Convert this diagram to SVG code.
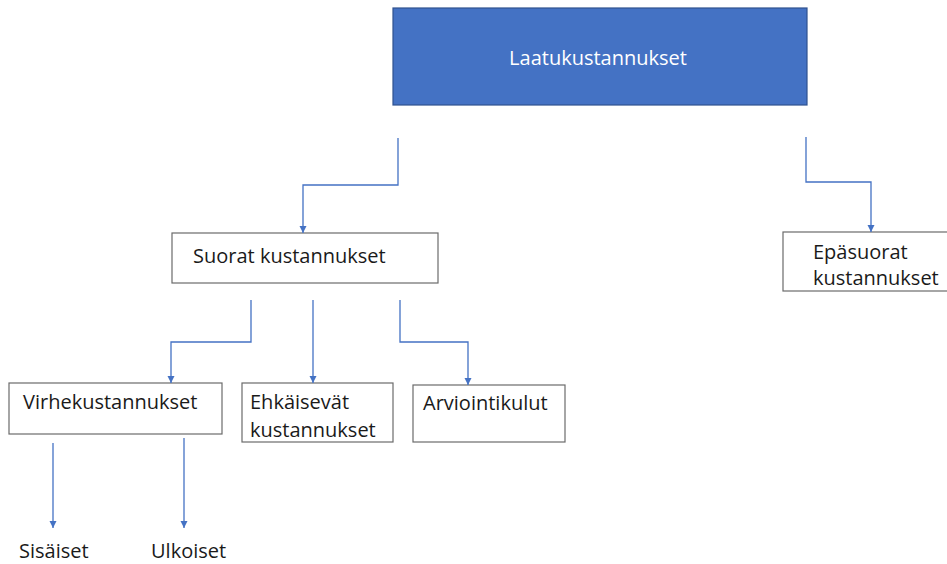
<svg xmlns="http://www.w3.org/2000/svg" width="947" height="564" viewBox="0 0 947 564">
<defs>
<marker id="ah" markerWidth="8" markerHeight="8" refX="7" refY="4" orient="auto" markerUnits="userSpaceOnUse">
<path d="M0,0.5 L7,4 L0,7.5 Z" fill="#4472C4"/>
</marker>
<style>
.box{fill:#fff;stroke:#6b6b6b;stroke-width:1.2}
.t{font-family:"Open Sans","Noto Sans",sans-serif;font-size:20px;fill:#1a1a1a}
.c{fill:none;stroke:#4472C4;stroke-width:1.3;marker-end:url(#ah)}
</style>
</defs>
<rect width="947" height="564" fill="#fff"/>
<g id="laatukustannukset">
<rect x="393" y="8" width="414" height="97" fill="#4472C4" stroke="#2F528F" stroke-width="1.2"/>
<text class="t" x="598" y="65" text-anchor="middle" style="fill:#fff">Laatukustannukset</text>
</g>
<g id="suorat">
<rect class="box" x="172" y="233" width="266" height="50"/>
<text class="t" x="193" y="263">Suorat kustannukset</text>
</g>
<g id="epasuorat">
<rect class="box" x="783" y="232" width="170" height="59"/>
<text class="t" x="813" y="259">Epäsuorat</text>
<text class="t" x="813" y="285">kustannukset</text>
</g>
<g id="virhekustannukset">
<rect class="box" x="9" y="383" width="213" height="51"/>
<text class="t" x="23" y="409">Virhekustannukset</text>
</g>
<g id="ehkaisevat">
<rect class="box" x="242" y="383" width="151" height="59"/>
<text class="t" x="250" y="409">Ehkäisevät</text>
<text class="t" x="250" y="437">kustannukset</text>
</g>
<g id="arviointikulut">
<rect class="box" x="413" y="385" width="152" height="57"/>
<text class="t" x="423" y="410">Arviointikulut</text>
</g>
<g id="sisaiset">
<text class="t" x="19" y="558">Sisäiset</text>
</g>
<g id="ulkoiset">
<text class="t" x="151" y="558">Ulkoiset</text>
</g>
<g id="connectors">
<path class="c" d="M398,138 V185 H303 V233"/>
<path class="c" d="M806,137 V182 H871 V232"/>
<path class="c" d="M251,300 V342 H171 V383"/>
<path class="c" d="M313,300 V383"/>
<path class="c" d="M400,300 V342 H468 V385"/>
<path class="c" d="M53,443 V528"/>
<path class="c" d="M184,438 V528"/>
</g>
</svg>
